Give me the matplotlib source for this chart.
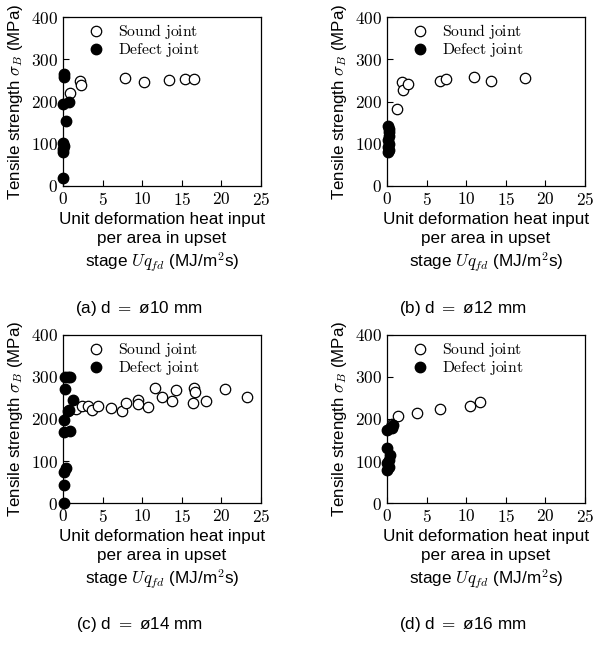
import numpy as np
import matplotlib
matplotlib.use("Agg")
import matplotlib.pyplot as plt
from matplotlib.ticker import FuncFormatter

plt.rcParams["mathtext.fontset"] = "cm"
plt.rcParams["font.family"] = ["Liberation Sans", "DejaVu Sans"]

# =========================
# DATOS
# =========================
# (a) d = 10 mm
a_sound_x = [0.84, 2.2, 2.3, 7.8, 10.2, 13.4, 15.4, 16.5]
a_sound_y = [219, 248, 239, 256, 246, 252, 254, 254]
a_defect_x = [0.15, 0.1, 0.05, 0.7, 0.35, 0.05, 0.1, 0.05, 0.0, 0.0]
a_defect_y = [264, 257, 195, 199, 154, 101, 94, 87, 80, 20]

# (b) d = 12 mm
b_sound_x = [1.26, 1.94, 2.0, 2.66, 6.75, 7.4, 11.0, 13.1, 17.4]
b_sound_y = [182, 246, 228, 241, 248, 254, 258, 249, 256]
b_defect_x = [0.1, 0.3, 0.2, 0.3, 0.1, 0.2, 0.1, 0.2, 0.1]
b_defect_y = [143, 135, 128, 118, 110, 100, 92, 85, 80]

# (c) d = 14 mm
c_sound_x = [1.6, 2.45, 3.2, 3.6, 4.4, 6.0, 7.4, 8.0, 9.5, 9.5, 10.7,
             11.6, 12.5, 13.8, 14.3, 16.4, 16.5, 16.7, 18.0, 20.4, 23.2]
c_sound_y = [223, 232, 231, 222, 232, 226, 218, 239, 246, 236, 228,
             273, 253, 243, 269, 238, 273, 265, 244, 271, 252]
c_defect_x = [0.3, 0.6, 0.85, 0.3, 1.3, 0.7, 0.6, 0.1, 0.1, 0.85,
              0.35, 0.1, 0.1, 0.1]
c_defect_y = [301, 301, 301, 272, 245, 222, 218, 198, 170, 172,
              84, 75, 44, 0]

# (d) d = 16 mm
d_sound_x = [0.6, 1.4, 3.84, 6.66, 10.5, 11.7]
d_sound_y = [189, 206, 214, 224, 230, 240]
d_defect_x = [0.05, 0.6, 0.7, 0.5, 0.05, 0.35, 0.25, 0.05, 0.2, 0.05]
d_defect_y = [173, 178, 186, 181, 131, 115, 103, 96, 86, 78]

paneles = [
    ("(a) d $=$ ø10 mm", a_sound_x, a_sound_y, a_defect_x, a_defect_y),
    ("(b) d $=$ ø12 mm", b_sound_x, b_sound_y, b_defect_x, b_defect_y),
    ("(c) d $=$ ø14 mm", c_sound_x, c_sound_y, c_defect_x, c_defect_y),
    ("(d) d $=$ ø16 mm", d_sound_x, d_sound_y, d_defect_x, d_defect_y),
]

# posiciones de los ejes en pixeles (izq, arriba, der, abajo)
W, H = 603, 651
cajas = [(63, 17, 261, 186), (387, 17, 585, 186),
         (63, 335, 261, 503), (387, 335, 585, 503)]
captions_xy = [(139, 308), (463, 308), (139, 625), (463, 625)]

fig = plt.figure(figsize=(W / 100, H / 100), dpi=100)

fmt = FuncFormatter(lambda v, p: f"${v:g}$")

for (titulo, sx, sy, dx, dy), (x0, y0, x1, y1), (cx, cy) in zip(paneles, cajas, captions_xy):
    ax = fig.add_axes([x0 / W, 1 - y1 / H, (x1 - x0) / W, (y1 - y0) / H])
    ax.plot(sx, sy, "o", ms=7.5, mfc="white", mec="black", mew=0.9,
            label=r"$\mathrm{Sound\ joint}$", clip_on=False, zorder=3)
    ax.plot(dx, dy, "o", ms=7.5, mfc="black", mec="black",
            label=r"$\mathrm{Defect\ joint}$", clip_on=False, zorder=4)
    ax.set_xlim(0, 25)
    ax.set_ylim(0, 400)
    ax.set_xticks([0, 5, 10, 15, 20, 25])
    ax.set_yticks([0, 100, 200, 300, 400])
    ax.xaxis.set_major_formatter(fmt)
    ax.yaxis.set_major_formatter(fmt)
    ax.tick_params(direction="in", length=4, labelsize=12.5, top=False, right=False)
    for s in ax.spines.values():
        s.set_linewidth(0.9)
    ax.set_ylabel(r"Tensile strength $\sigma_B$ (MPa)", fontsize=12.2, labelpad=4)
    ax.set_xlabel("Unit deformation heat input\nper area in upset\n"
                  r"stage $Uq_{fd}$ (MJ/m$^2$s)", fontsize=12.3,
                  linespacing=1.3, labelpad=3)
    ax.legend(loc="upper left", frameon=False, fontsize=11.3,
              bbox_to_anchor=(0.08, 1.025), handletextpad=0.9,
              labelspacing=0.0, handlelength=1.0, borderaxespad=0.2)
    fig.text(cx / W, 1 - cy / H, titulo, ha="center", va="center", fontsize=12.3)

fig.savefig("out.png", dpi=100)
